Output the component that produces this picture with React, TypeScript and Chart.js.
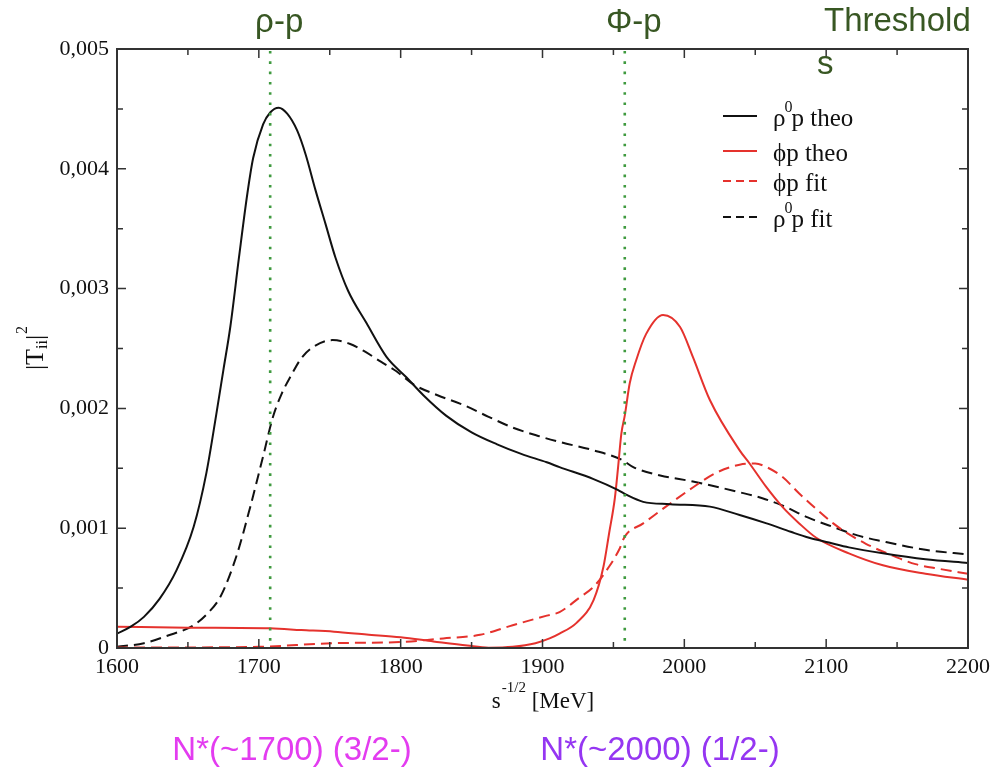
import React, { useEffect, useRef } from "react";
import { Chart, registerables } from "chart.js";

Chart.register(...registerables);

// ---------- data ----------
const rhoTheoX = [1600, 1610, 1619, 1630, 1642, 1654, 1663, 1670, 1675, 1680, 1686, 1692, 1696, 1703, 1708, 1714, 1720, 1727, 1733, 1740, 1747, 1754, 1763, 1776, 1790, 1804, 1816, 1832, 1850, 1868, 1885, 1903, 1912, 1936, 1953, 1959, 1971, 1990, 2018, 2039, 2058, 2075, 2088, 2102, 2116, 2140, 2170, 2200];
const rhoTheoY = [0.00012, 0.00018, 0.00026, 0.00041, 0.00065, 0.00101, 0.00146, 0.00195, 0.00232, 0.00269, 0.00326, 0.0038, 0.00409, 0.00437, 0.00447, 0.00451, 0.00446, 0.00432, 0.00412, 0.00382, 0.00354, 0.00326, 0.00298, 0.00271, 0.00243, 0.00226, 0.00211, 0.00194, 0.0018, 0.0017, 0.00162, 0.00155, 0.00151, 0.00141, 0.00132, 0.00128, 0.00122, 0.0012, 0.00118, 0.00111, 0.00104, 0.00097, 0.00092, 0.00088, 0.00084, 0.00079, 0.00074, 0.00071];

const phiTheoX = [1600, 1650, 1708, 1730, 1753, 1776, 1800, 1823, 1847, 1862, 1879, 1895, 1905, 1912, 1924, 1936, 1943, 1947, 1951, 1953.3, 1955.6, 1958, 1961.5, 1966, 1973, 1985, 1997, 2006, 2018, 2039, 2046, 2058, 2069, 2081, 2093, 2116, 2140, 2170, 2200];
const phiTheoY = [0.000178, 0.00017, 0.000164, 0.00015, 0.000136, 0.000113, 0.00009, 0.000055, 0.00002, 0.000003, 0.00001, 0.00004, 0.00008, 0.00012, 0.00021, 0.0004, 0.00068, 0.00096, 0.00125, 0.00151, 0.00179, 0.00194, 0.00221, 0.0024, 0.00262, 0.00278, 0.00268, 0.00243, 0.00207, 0.00165, 0.00154, 0.00134, 0.00118, 0.00104, 0.00092, 0.00079, 0.00069, 0.00062, 0.00057];

const phiFitX = [1600, 1650, 1700, 1752, 1800, 1830, 1856, 1879, 1903, 1912, 1926, 1936, 1947, 1954, 1958, 1971, 1987, 2006, 2022, 2039, 2050, 2058, 2069, 2081, 2093, 2105, 2116, 2128, 2145, 2163, 2180, 2200];
const phiFitY = [0.000005, 0.000005, 0.00001, 0.00004, 0.00005, 0.00008, 0.00011, 0.00019, 0.00027, 0.0003, 0.00042, 0.00051, 0.00068, 0.00082, 0.00093, 0.00104, 0.00118, 0.00134, 0.00146, 0.00153, 0.00154, 0.00151, 0.00143, 0.00129, 0.00116, 0.00104, 0.00095, 0.00087, 0.00078, 0.0007, 0.00066, 0.00062];

const rhoFitX = [1600, 1619, 1635, 1654, 1664, 1673, 1684, 1694, 1703, 1710, 1716, 1723, 1730, 1738, 1752, 1764, 1774, 1786, 1797, 1809, 1826, 1844, 1862, 1879, 1897, 1912, 1936, 1956, 1964, 1983, 2006, 2039, 2055, 2069, 2087, 2105, 2122, 2140, 2170, 2200];
const rhoFitY = [0.00001, 0.00004, 0.0001, 0.00019, 0.00029, 0.00043, 0.00076, 0.00118, 0.0016, 0.00193, 0.00212, 0.00228, 0.00242, 0.00251, 0.00257, 0.00254, 0.00248, 0.00239, 0.00231, 0.0022, 0.00211, 0.00203, 0.00193, 0.00184, 0.00177, 0.00172, 0.00165, 0.00157, 0.00151, 0.00144, 0.00139, 0.0013, 0.00125, 0.00119, 0.00109, 0.00101, 0.00094, 0.00089, 0.00082, 0.00078];

const seriesLabels = ["ρ⁰p theo", "ϕp theo", "ϕp fit", "ρ⁰p fit"];
const thresholdValues = [1708, 1958];
const thresholdLabels = ["ρ-p", "Φ-p"];
const thresholdNote = ["Threshold", "s"];
const resonanceLabels = ["N*(~1700) (3/2-)", "N*(~2000) (1/2-)"];
const xMin = 1600, xMax = 2200, xStep = 100, xMinorStep = 50;
const yMin = 0, yMax = 0.005, yStep = 0.001, yMinorStep = 0.0005;

// ---------- styles ----------
const SERIF = "'Liberation Serif', 'Times New Roman', serif";
const SANS = "'Liberation Sans', Arial, sans-serif";
const RED = "#e5322d";
const BLACK = "#111111";
const GREEN_TXT = "#385723";
const DOT_GREEN = "#3f9a3f";

const pts = (xs: number[], ys: number[]) => xs.map((x, i) => ({ x, y: ys[i] }));

function drawRich(ctx: CanvasRenderingContext2D, x: number, baseline: number, text: string, size: number) {
  const parts = text.split("⁰");
  let cx = x;
  parts.forEach((p, i) => {
    if (i > 0) {
      ctx.font = `${Math.round(size * 0.62)}px ${SERIF}`;
      ctx.fillText("0", cx - 1, baseline - 14);
      cx += ctx.measureText("0").width - 2;
    }
    ctx.font = `${size}px ${SERIF}`;
    ctx.fillText(p, cx, baseline);
    cx += ctx.measureText(p).width;
  });
}

const decorPlugin = {
  id: "decor",
  afterDatasetsDraw(chart: any) {
    const { ctx, chartArea: ca, scales } = chart;
    const xs = scales.x, ys = scales.y;
    ctx.save();
    // threshold dotted lines
    ctx.strokeStyle = DOT_GREEN;
    ctx.lineWidth = 2.6;
    ctx.setLineDash([2.6, 7.7]);
    thresholdValues.forEach((t) => {
      const px = xs.getPixelForValue(t);
      ctx.beginPath();
      ctx.moveTo(px, ca.top + 2);
      ctx.lineTo(px, ca.bottom);
      ctx.stroke();
    });
    ctx.setLineDash([]);

    // frame
    ctx.strokeStyle = "#333";
    ctx.lineWidth = 2;
    ctx.strokeRect(ca.left, ca.top, ca.right - ca.left, ca.bottom - ca.top);
    // inward ticks
    ctx.lineWidth = 1.5;
    for (let v = xMin; v <= xMax + 1e-9; v += xMinorStep) {
      const px = xs.getPixelForValue(v);
      const major = Math.abs((v - xMin) % xStep) < 1e-6;
      const len = major ? 9 : 6;
      ctx.beginPath();
      ctx.moveTo(px, ca.bottom); ctx.lineTo(px, ca.bottom - len);
      ctx.moveTo(px, ca.top); ctx.lineTo(px, ca.top + len);
      ctx.stroke();
    }
    for (let k = 0; k <= Math.round((yMax - yMin) / yMinorStep); k++) {
      const v = yMin + k * yMinorStep;
      const py = ys.getPixelForValue(v);
      const len = k % 2 === 0 ? 9 : 6;
      ctx.beginPath();
      ctx.moveTo(ca.left, py); ctx.lineTo(ca.left + len, py);
      ctx.moveTo(ca.right, py); ctx.lineTo(ca.right - len, py);
      ctx.stroke();
    }

    // legend
    const rowY = [116, 151, 181, 217];
    chart.data.datasets.forEach((ds: any, i: number) => {
      const y = rowY[i];
      ctx.strokeStyle = ds.borderColor;
      ctx.lineWidth = 2;
      ctx.setLineDash(ds.borderDash && ds.borderDash.length ? [8, 5] : []);
      ctx.beginPath();
      ctx.moveTo(723, y); ctx.lineTo(757, y);
      ctx.stroke();
      ctx.setLineDash([]);
      ctx.fillStyle = "#111";
      ctx.textAlign = "left";
      ctx.textBaseline = "alphabetic";
      drawRich(ctx, 773, y + 10, ds.label, 25);
    });
    ctx.restore();
  },
  afterDraw(chart: any) {
    const { ctx, chartArea: ca, scales } = chart;
    const xs = scales.x;
    ctx.save();
    ctx.textBaseline = "alphabetic";
    // threshold labels
    ctx.fillStyle = GREEN_TXT;
    ctx.font = `33px ${SANS}`;
    ctx.textAlign = "center";
    thresholdLabels.forEach((lab, i) => {
      ctx.fillText(lab, xs.getPixelForValue(thresholdValues[i]) + 9, 32);
    });
    ctx.textAlign = "left";
    ctx.fillText(thresholdNote[0], 824, 31);
    ctx.fillText(thresholdNote[1], 817, 74);

    // resonance labels
    ctx.textAlign = "center";
    ctx.fillStyle = "#e33cf0";
    ctx.fillText(resonanceLabels[0], 292, 760);
    ctx.fillStyle = "#9536f2";
    ctx.fillText(resonanceLabels[1], 660, 760);

    // x axis title: s^{-1/2} [MeV]
    ctx.fillStyle = "#111";
    ctx.textAlign = "left";
    const big = `23px ${SERIF}`, small = `15px ${SERIF}`;
    ctx.font = big; const w1 = ctx.measureText("s").width;
    ctx.font = small; const w2 = ctx.measureText("-1/2").width;
    ctx.font = big; const w3 = ctx.measureText(" [MeV]").width;
    let x0 = (ca.left + ca.right) / 2 - (w1 + w2 + w3) / 2;
    ctx.font = big; ctx.fillText("s", x0, 708); x0 += w1 + 1;
    ctx.font = small; ctx.fillText("-1/2", x0, 692); x0 += w2;
    ctx.font = big; ctx.fillText(" [MeV]", x0, 708);

    // y axis title: |T_ii|^2
    const ybig = `26px ${SERIF}`, ysmall = `16px ${SERIF}`;
    ctx.translate(43, (ca.top + ca.bottom) / 2);
    ctx.rotate(-Math.PI / 2);
    ctx.font = ybig; const a = ctx.measureText("|T").width;
    ctx.font = ysmall; const b = ctx.measureText("ii").width;
    ctx.font = ybig; const c = ctx.measureText("|").width;
    ctx.font = ysmall; const d = ctx.measureText("2").width;
    let yx = -(a + b + c + d) / 2;
    ctx.font = ybig; ctx.fillText("|T", yx, 0); yx += a;
    ctx.font = ysmall; ctx.fillText("ii", yx, 4); yx += b;
    ctx.font = ybig; ctx.fillText("|", yx, 0); yx += c + 1;
    ctx.font = ysmall; ctx.fillText("2", yx, -16);
    ctx.restore();
  },
};

export default function App() {
  const ref = useRef<HTMLCanvasElement | null>(null);
  useEffect(() => {
    if (!ref.current) return;
    const mk = (label: string, xs: number[], ys: number[], color: string, dashed: boolean) => ({
      label,
      data: pts(xs, ys),
      borderColor: color,
      backgroundColor: color,
      borderWidth: 2,
      borderDash: dashed ? [11, 6] : [],
      pointRadius: 0,
      fill: false,
      cubicInterpolationMode: "monotone" as const,
    });
    const chart = new Chart(ref.current, {
      type: "line",
      data: {
        datasets: [
          mk(seriesLabels[0], rhoTheoX, rhoTheoY, BLACK, false),
          mk(seriesLabels[1], phiTheoX, phiTheoY, RED, false),
          mk(seriesLabels[2], phiFitX, phiFitY, RED, true),
          mk(seriesLabels[3], rhoFitX, rhoFitY, BLACK, true),
        ],
      },
      options: {
        animation: false,
        responsive: false,
        devicePixelRatio: 1,
        layout: { padding: { top: 49, right: 26, bottom: 0, left: 0 } },
        plugins: { legend: { display: false }, tooltip: { enabled: false } },
        scales: {
          x: {
            type: "linear",
            min: xMin,
            max: xMax,
            grid: { display: false, drawTicks: false },
            border: { display: false },
            ticks: {
              stepSize: xStep,
              padding: 6,
              color: "#111",
              font: { family: SERIF, size: 22 },
              callback: (v: any) => String(v),
              maxRotation: 0,
            },
            afterFit: (s: any) => { s.height = 126; s.paddingLeft = 0; s.paddingRight = 0; },
          },
          y: {
            type: "linear",
            min: yMin,
            max: yMax,
            grid: { display: false, drawTicks: false },
            border: { display: false },
            ticks: {
              stepSize: yStep,
              padding: 8,
              color: "#111",
              font: { family: SERIF, size: 22 },
              callback: (v: any) => (Number(v) === 0 ? "0" : Number(v).toFixed(3).replace(".", ",")),
            },
            afterFit: (s: any) => { s.width = 117; s.paddingTop = 0; s.paddingBottom = 0; },
          },
        },
      },
      plugins: [decorPlugin],
    });
    return () => chart.destroy();
  }, []);
  return (
    <div style={{ position: "absolute", left: 0, top: 0, width: 994, height: 774, background: "#fff" }}>
      <canvas ref={ref} width={994} height={774} style={{ width: 994, height: 774, display: "block" }} />
    </div>
  );
}
